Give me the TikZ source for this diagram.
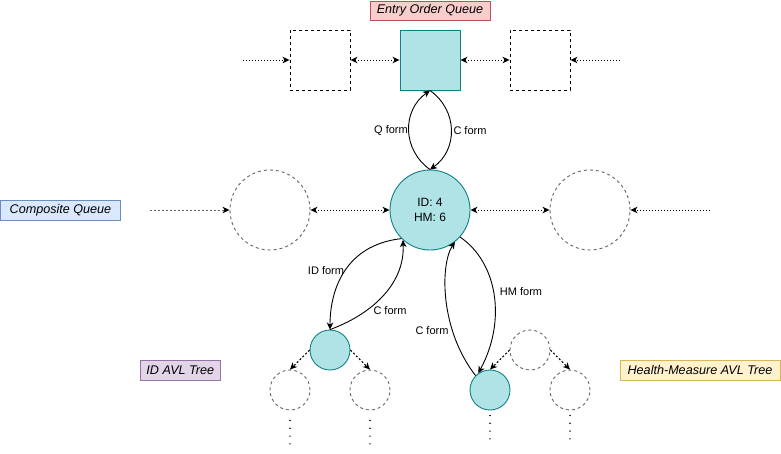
\documentclass[tikz,border=0pt]{standalone}
\usepackage{fontspec}
\setmainfont{Liberation Sans}
\usetikzlibrary{arrows.meta}
\definecolor{tealfill}{HTML}{B0E3E6}
\definecolor{tealline}{HTML}{0E8088}
\definecolor{redfill}{HTML}{F8CECC}
\definecolor{redline}{HTML}{B85450}
\definecolor{bluefill}{HTML}{DAE8FC}
\definecolor{blueline}{HTML}{6C8EBF}
\definecolor{purplefill}{HTML}{E1D5E7}
\definecolor{purpleline}{HTML}{9673A6}
\definecolor{yellowfill}{HTML}{FFF2CC}
\definecolor{yellowline}{HTML}{D6B656}
\definecolor{ghost}{HTML}{666666}
\begin{document}
\begin{tikzpicture}[x=1pt,y=-1pt,
  tip/.tip={Stealth[length=7pt,width=6.5pt,inset=2pt]},
  ghostsq/.style={draw=black, line width=0.9pt, dash pattern=on 3pt off 3pt, minimum size=60pt, inner sep=0pt},
  mainsq/.style={draw=tealline, fill=tealfill, line width=0.9pt, minimum size=60pt, inner sep=0pt},
  ghostcirc/.style={circle, draw=ghost, line width=0.9pt, dash pattern=on 3pt off 3pt, inner sep=0pt},
  maincirc/.style={circle, draw=tealline, fill=tealfill, line width=0.9pt, inner sep=0pt},
  tagbox/.style={draw, line width=0.9pt, minimum height=20pt, inner sep=0pt, font=\fontsize{12.6}{14}\selectfont\itshape},
  lbl/.style={font=\fontsize{11}{13}\selectfont, inner sep=0pt},
  dotarr/.style={draw=black, line width=0.9pt, dash pattern=on 1pt off 2pt, -tip},
  dotarrboth/.style={draw=black, line width=0.9pt, dash pattern=on 1pt off 2pt, tip-tip},
  grayarr/.style={draw=ghost, line width=0.9pt, dash pattern=on 2pt off 2pt, -{Stealth[length=7pt,width=6.5pt,inset=2pt,black]}},
  treearr/.style={draw=black, line width=1.1pt, dash pattern=on 2pt off 2pt, -tip},
  curvearr/.style={draw=black, line width=0.9pt, -tip},
  dotline/.style={draw=black, line width=1.6pt, line cap=round, dash pattern=on 0pt off 7.8pt}
]
\fill[white] (0,0) rectangle (781,453);
\useasboundingbox (0,0) rectangle (781,453);

% Entry order queue
\node[tagbox, fill=redfill, draw=redline, minimum width=120pt, minimum height=19pt] (eoq) at (430,10.5) {Entry Order Queue};
\node[ghostsq] (sqL) at (320,60) {};
\node[mainsq] (sqC) at (430,60) {};
\node[ghostsq] (sqR) at (540,60) {};
\coordinate (tl) at (243,60);
\coordinate (tr) at (620,60);
\draw[dotarr] (tl) -- (sqL.west);
\draw[dotarrboth] (sqL.east) -- (sqC.west);
\draw[dotarrboth] (sqC.east) -- (sqR.west);
\draw[dotarr] (tr) -- (sqR.east);

% Composite queue
\node[tagbox, fill=bluefill, draw=blueline, minimum width=120pt] (cq) at (60.5,210.5) {Composite Queue};
\node[ghostcirc, minimum size=80pt] (cL) at (270,210) {};
\node[maincirc, minimum size=80pt, align=center, font=\fontsize{12}{15}\selectfont] (cC) at (430,210) {ID: 4\\HM: 6};
\node[ghostcirc, minimum size=80pt] (cR) at (590,210) {};
\coordinate (cl) at (150,210);
\coordinate (cr) at (710,210);
\draw[grayarr] (cl) -- (cL.west);
\draw[dotarrboth] (cL.east) -- (cC.west);
\draw[dotarrboth] (cC.east) -- (cR.west);
\draw[dotarr] (cr) -- (cR.east);

% Q / C form
\draw[curvearr] (cC.north) .. controls +(-28,-20) and +(-28,20) .. (sqC.south);
\draw[curvearr] (sqC.south) .. controls +(28,20) and +(28,-20) .. (cC.north);
\node[lbl] (qf) at (391,131) {Q form};
\node[lbl] (cf1) at (470,131) {C form};

% ID AVL tree
\node[tagbox, fill=purplefill, draw=purpleline, minimum width=80pt] (idt) at (180.3,370.3) {ID AVL Tree};
\node[maincirc, minimum size=40pt] (cID) at (330,350) {};
\node[ghostcirc, minimum size=40pt] (cIDL) at (290,390) {};
\node[ghostcirc, minimum size=40pt] (cIDR) at (370,390) {};
\draw[treearr] (cID.west) -- (cIDL.north);
\draw[treearr] (cID.east) -- (cIDR.north);
\coordinate (idLend) at (290,444);
\coordinate (idRend) at (370,444);
\draw[dotline] ([yshift=-10pt]cIDL.south) -- (idLend);
\draw[dotline] ([yshift=-10pt]cIDR.south) -- (idRend);

\draw[curvearr] (cC.225) .. controls (345,245) and (330,290) .. (cID.north);
\draw[curvearr] (cID.north) .. controls (370,315) and (405,285) .. (cC.228);
\node[lbl] (idf) at (326,271) {ID form};
\node[lbl] (cf2) at (390,311) {C form};

% Health-measure AVL tree
\node[tagbox, fill=yellowfill, draw=yellowline, minimum width=160pt] (hmt) at (700,370.3) {Health-Measure AVL Tree};
\node[ghostcirc, minimum size=40pt] (cHP) at (530,350) {};
\node[maincirc, minimum size=40pt] (cHM) at (490,390) {};
\node[ghostcirc, minimum size=40pt] (cHR) at (570,390) {};
\draw[treearr] (cHP.west) -- (cHM.north);
\draw[treearr] (cHP.east) -- (cHR.north);
\coordinate (hmLend) at (490,439);
\coordinate (hmRend) at (570,439);
\draw[dotline] ([yshift=-5pt]cHM.south) -- (hmLend);
\draw[dotline] ([yshift=-5pt]cHR.south) -- (hmRend);

\draw[curvearr] (cC.-42) .. controls (497,262) and (507,320) .. (cHM.125);
\draw[curvearr] (cHM.135) .. controls (440,330) and (440,265) .. (cC.-52);
\node[lbl] (hmf) at (521,292) {HM form};
\node[lbl] (cf3) at (432,331) {C form};
\end{tikzpicture}
\end{document}
